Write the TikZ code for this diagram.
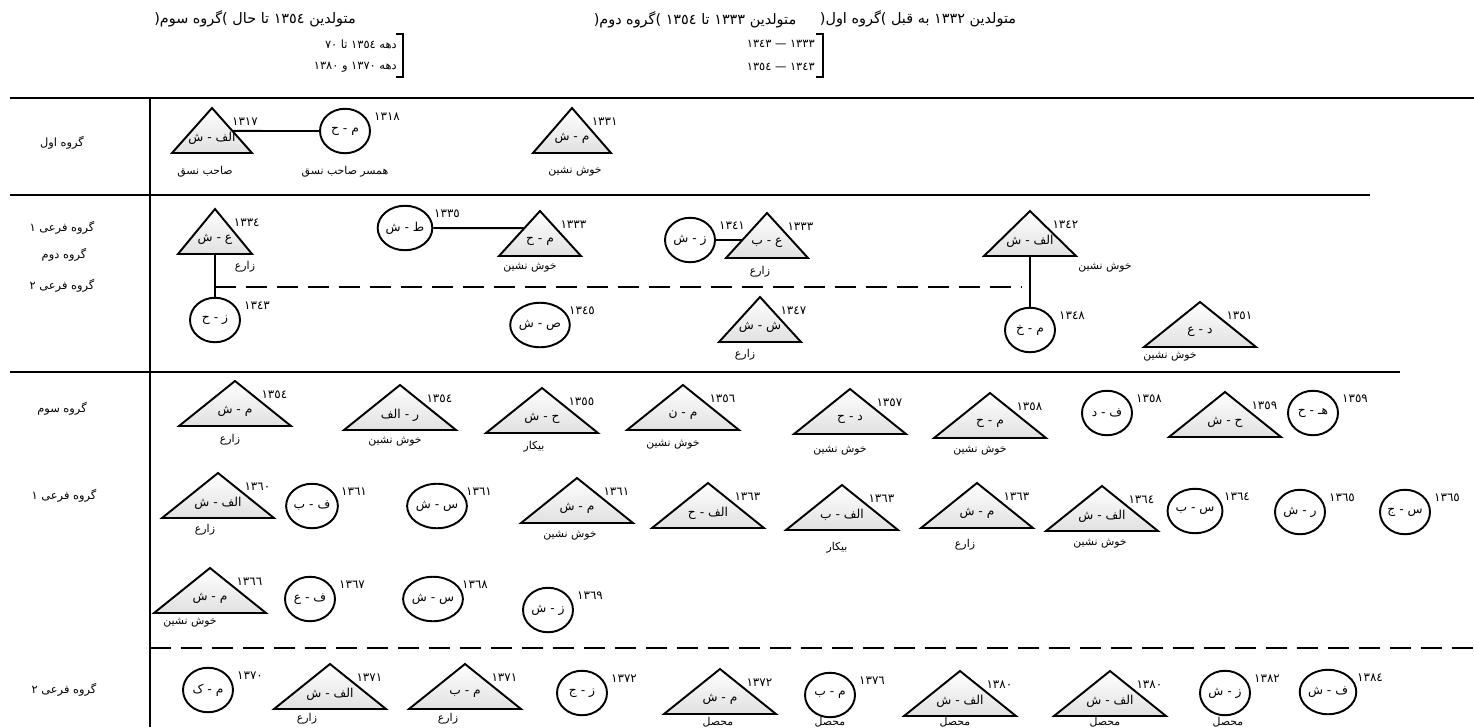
\documentclass[tikz,border=0pt]{standalone}
\usepackage{fontspec}
\usepackage{tikz}
\usetikzlibrary{shapes.geometric,calc}
\newfontfamily\arabicfont[Script=Arabic]{DejaVu Sans}
\TeXXeTstate=1

% a man: triangle (optional half base) with initials inside and year of birth
\newcommand{\malenode}[5][56]{%
  \coordinate (#2) at (#3);
  \draw[triline] (#2) -- ++(-#1,45) coordinate (#2-bl)
    -- ++(2*#1,0) coordinate (#2-br) -- cycle;
  \coordinate (#2-b) at ($(#2-bl)!0.5!(#2-br)$);
  \node[initials] (#2-in) at ($(#2)+(0,30)$) {#4};
  \node[year] (#2-yr) at ($(#2)+(0.4*#1+17,14)$) {#5};
}
% a woman: circle with initials inside and year of birth
\newcommand{\femalenode}[4]{%
  \node[person] (#1) at (#2) {#3};
  \node[year] (#1-yr) at ($(#1)+(42,-14)$) {#4};
}

\begin{document}
\begin{tikzpicture}[
    x=0.02cm, y=-0.02cm,
    triline/.style={draw=black,line width=1.1pt,line join=miter,
      top color=white,bottom color=black!12},
    person/.style={ellipse,draw=black,line width=1.1pt,fill=white,
      minimum width=1cm,minimum height=0.89cm,inner sep=0pt,
      font=\arabicfont\fontsize{7}{8}\selectfont},
    initials/.style={inner sep=0pt,font=\arabicfont\fontsize{7}{8}\selectfont},
    year/.style={inner sep=0pt,font=\arabicfont\fontsize{6.8}{7}\selectfont},
    job/.style={inner sep=0pt,font=\arabicfont\fontsize{6.2}{7}\selectfont},
    grouplabel/.style={inner sep=0pt,font=\arabicfont\fontsize{6.5}{8}\selectfont},
    header/.style={inner sep=0pt,font=\arabicfont\fontsize{8.2}{10}\selectfont},
    subhead/.style={inner sep=0pt,anchor=east,font=\arabicfont\fontsize{6.5}{8}\selectfont},
    bracket/.style={draw=black,line width=0.7pt},
    divider/.style={draw=black,line width=1.2pt},
    splitline/.style={draw=black,line width=1.1pt,dash pattern=on 0.42cm off 0.2cm},
    tie/.style={draw=black,line width=1.1pt}
  ]
  \useasboundingbox (0,0) rectangle (1474,727);

  % headings of the three generations
  \node[header] (h3) at (255,19) {(\beginR گروه سوم\endR)\ \beginR متولدین ١٣٥٤ تا حال\endR};
  \node[subhead] (h3a) at (397,44) {\beginR دهه ١٣٥٤ تا ٧٠\endR};
  \node[subhead] (h3b) at (397,67) {\beginR دهه ١٣٧٠ و ١٣٨٠\endR};
  \draw[bracket] (396,34) -- (403,34) -- (403,77) -- (396,77);
  \node[header] (h2) at (695,20) {(\beginR گروه دوم\endR)\ \beginR متولدین ١٣٣٣ تا ١٣٥٤\endR};
  \node[subhead] (h2a) at (815,44) {\beginR ١٣٣٣ — ١٣٤٣\endR};
  \node[subhead] (h2b) at (815,67) {\beginR ١٣٤٣ — ١٣٥٤\endR};
  \draw[bracket] (816,34) -- (823,34) -- (823,77) -- (816,77);
  \node[header] (h1) at (918,19) {(\beginR گروه اول\endR)\ \beginR متولدین ١٣٣٢ به قبل\endR};

  % frame
  \draw[divider] (10,98) -- (1474,98);
  \draw[divider] (10,195) -- (1370,195);
  \draw[divider] (10,372) -- (1400,372);
  \draw[divider] (150,98) -- (150,727);
  \node[grouplabel] (g1) at (62,143) {\beginR گروه اول\endR};
  \node[grouplabel] (g2a) at (62,228) {\beginR گروه فرعی ١\endR};
  \node[grouplabel] (g2) at (64,255) {\beginR گروه دوم\endR};
  \node[grouplabel] (g2b) at (62,286) {\beginR گروه فرعی ٢\endR};
  \node[grouplabel] (g3) at (62,409) {\beginR گروه سوم\endR};
  \node[grouplabel] (g3a) at (64,496) {\beginR گروه فرعی ١\endR};
  \node[grouplabel] (g3b) at (64,690) {\beginR گروه فرعی ٢\endR};

  % first group
  \malenode[40]{t11}{212,108}{\beginR الف - ش\endR}{١٣١٧}
  \femalenode{c11}{345,131}{\beginR م - ح\endR}{١٣١٨}
  \malenode[39]{t12}{572,108}{\beginR م - ش\endR}{١٣٣١}
  \coordinate (t11-e) at ($(t11)!0.51!(t11-br)$);
  \draw[tie] (t11-e) -- (c11);
  \node[job] (t11-job) at (205,172) {\beginR صاحب نسق\endR};
  \node[job] (c11-job) at (345,172) {\beginR همسر صاحب نسق\endR};
  \node[job] (t12-job) at (575,172) {\beginR خوش نشین\endR};

  % second group
  \malenode[37]{t21}{215,209}{\beginR ع - ش\endR}{١٣٣٤}
  \femalenode{c21}{215,320}{\beginR ز - ح\endR}{١٣٤٣}
  \femalenode{c22}{405,228}{\beginR ط - ش\endR}{١٣٣٥}
  \malenode[41]{t22}{540,211}{\beginR م - ح\endR}{١٣٣٣}
  \femalenode{c23}{690,240}{\beginR ز - ش\endR}{١٣٤١}
  \malenode[41]{t23}{767,213}{\beginR ع - ب\endR}{١٣٣٣}
  \malenode[46]{t24}{1030,211}{\beginR الف - ش\endR}{١٣٤٢}
  \femalenode{c24}{1030,330}{\beginR م - خ\endR}{١٣٤٨}
  \femalenode{c25}{540,325}{\beginR ص - ش\endR}{١٣٤٥}
  \malenode[41]{t25}{760,297}{\beginR ش - ش\endR}{١٣٤٧}
  \malenode{t26}{1200,302}{\beginR د - ع\endR}{١٣٥١}
  \coordinate (t22-w) at ($(t22)!0.38!(t22-bl)$);
  \coordinate (t23-w) at ($(t23)!0.6!(t23-bl)$);
  \draw[tie] (t21-b) -- (c21);
  \draw[tie] (c22) -- (t22-w);
  \draw[tie] (c23) -- (t23-w);
  \draw[tie] (t24-b) -- (c24);
  \coordinate (split-l) at (215,287);
  \coordinate (split-r) at (1022,287);
  \draw[splitline] (split-l) -- (split-r);
  \node[job] (t21-job) at (245,267) {زارع};
  \node[job] (t22-job) at (530,268) {\beginR خوش نشین\endR};
  \node[job] (t23-job) at (760,272) {زارع};
  \node[job] (t24-job) at (1105,268) {\beginR خوش نشین\endR};
  \node[job] (t25-job) at (745,355) {زارع};
  \node[job] (t26-job) at (1170,357) {\beginR خوش نشین\endR};

  % third group, first row
  \malenode{t31}{235,381}{\beginR م - ش\endR}{١٣٥٤}
  \malenode{t32}{400,385}{\beginR ر - الف\endR}{١٣٥٤}
  \malenode{t33}{542,388}{\beginR ح - ش\endR}{١٣٥٥}
  \malenode{t34}{683,385}{\beginR م - ن\endR}{١٣٥٦}
  \malenode{t35}{850,389}{\beginR د - ح\endR}{١٣٥٧}
  \malenode{t36}{990,393}{\beginR م - ح\endR}{١٣٥٨}
  \femalenode{c31}{1107,413}{\beginR ف - د\endR}{١٣٥٨}
  \malenode{t37}{1225,392}{\beginR ح - ش\endR}{١٣٥٩}
  \femalenode{c32}{1313,413}{\beginR هـ - ح\endR}{١٣٥٩}
  \node[job] (t31-job) at (230,440) {زارع};
  \node[job] (t32-job) at (395,442) {\beginR خوش نشین\endR};
  \node[job] (t33-job) at (534,447) {بیکار};
  \node[job] (t34-job) at (673,445) {\beginR خوش نشین\endR};
  \node[job] (t35-job) at (840,451) {\beginR خوش نشین\endR};
  \node[job] (t36-job) at (980,451) {\beginR خوش نشین\endR};

  % third group, second row
  \malenode{t41}{218,473}{\beginR الف - ش\endR}{١٣٦٠}
  \femalenode{c41}{312,506}{\beginR ف - ب\endR}{١٣٦١}
  \femalenode{c42}{437,506}{\beginR س - ش\endR}{١٣٦١}
  \malenode{t42}{577,478}{\beginR م - ش\endR}{١٣٦١}
  \malenode{t43}{708,483}{\beginR الف - ح\endR}{١٣٦٣}
  \malenode{t44}{842,485}{\beginR الف - ب\endR}{١٣٦٣}
  \malenode{t45}{977,483}{\beginR م - ش\endR}{١٣٦٣}
  \malenode{t46}{1102,486}{\beginR الف - ش\endR}{١٣٦٤}
  \femalenode{c43}{1195,511}{\beginR س - ب\endR}{١٣٦٤}
  \femalenode{c44}{1300,512}{\beginR ر - ش\endR}{١٣٦٥}
  \femalenode{c45}{1405,512}{\beginR س - ج\endR}{١٣٦٥}
  \node[job] (t41-job) at (205,530) {زارع};
  \node[job] (t42-job) at (570,536) {\beginR خوش نشین\endR};
  \node[job] (t44-job) at (837,548) {بیکار};
  \node[job] (t45-job) at (965,545) {زارع};
  \node[job] (t46-job) at (1100,544) {\beginR خوش نشین\endR};

  % third group, third row
  \malenode{t51}{210,568}{\beginR م - ش\endR}{١٣٦٦}
  \femalenode{c51}{310,599}{\beginR ف - ع\endR}{١٣٦٧}
  \femalenode{c52}{433,599}{\beginR س - ش\endR}{١٣٦٨}
  \femalenode{c53}{548,610}{\beginR ز - ش\endR}{١٣٦٩}
  \node[job] (t51-job) at (190,623) {\beginR خوش نشین\endR};

  % third group, second sub-group
  \coordinate (split3-l) at (150,648);
  \coordinate (split3-r) at (1474,648);
  \draw[splitline] (split3-l) -- (split3-r);
  \femalenode{c61}{208,690}{\beginR م - ک\endR}{١٣٧٠}
  \malenode{t61}{330,664}{\beginR الف - ش\endR}{١٣٧١}
  \malenode{t62}{465,664}{\beginR م - ب\endR}{١٣٧١}
  \femalenode{c62}{582,693}{\beginR ز - ج\endR}{١٣٧٢}
  \malenode{t63}{720,669}{\beginR م - ش\endR}{١٣٧٢}
  \femalenode{c63}{830,695}{\beginR م - ب\endR}{١٣٧٦}
  \malenode{t64}{960,671}{\beginR الف - ش\endR}{١٣٨٠}
  \malenode{t65}{1110,671}{\beginR الف - ش\endR}{١٣٨٠}
  \femalenode{c64}{1225,693}{\beginR ز - ش\endR}{١٣٨٢}
  \femalenode{c65}{1328,692}{\beginR ف - ش\endR}{١٣٨٤}
  \node[job] (t61-job) at (307,719) {زارع};
  \node[job] (t62-job) at (448,719) {زارع};
  \node[job] (t63-job) at (718,722) {محصل};
  \node[job] (c63-job) at (830,722) {محصل};
  \node[job] (t64-job) at (955,722) {محصل};
  \node[job] (t65-job) at (1105,722) {محصل};
  \node[job] (c64-job) at (1228,722) {محصل};
\end{tikzpicture}
\end{document}
